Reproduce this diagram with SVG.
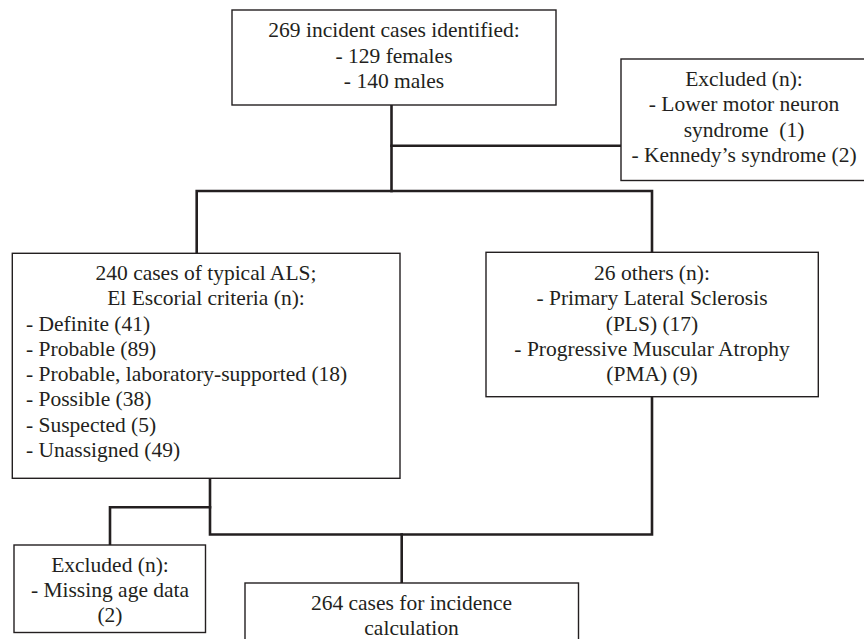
<svg xmlns="http://www.w3.org/2000/svg" width="864" height="639" viewBox="0 0 864 639">
<style>
.box{fill:#fff;stroke:#231f20;stroke-width:1.4}
.t{font-family:"Liberation Serif","Times New Roman",serif;font-size:21.5px;fill:#231f20}
.c{text-anchor:middle}
.conn{fill:none;stroke:#231f20;stroke-width:2.6;stroke-linejoin:miter;stroke-linecap:square}
</style>
<rect width="864" height="639" fill="#fff"/>
<g id="connectors">
<path class="conn" d="M391.5,105 V191"/>
<path class="conn" d="M391.5,145.7 H621"/>
<path class="conn" d="M196.7,253 V191 H652 V252"/>
<path class="conn" d="M210,478 V534.5 H652 V397"/>
<path class="conn" d="M210,507.3 H110 V545"/>
<path class="conn" d="M401.7,534.5 V583"/>
</g>
<g id="n_identified">
<rect class="box" x="232" y="10" width="324" height="95"/>
<text class="t c" x="394" y="37">269 incident cases identified:</text>
<text class="t c" x="394" y="62.5">- 129 females</text>
<text class="t c" x="394" y="88">- 140 males</text>
</g>
<g id="n_excluded1">
<rect class="box" x="621" y="59" width="250" height="121.5"/>
<text class="t c" x="744" y="86">Excluded (n):</text>
<text class="t c" x="744" y="111.3">- Lower motor neuron</text>
<text class="t c" x="744" y="136.5" xml:space="preserve">syndrome  (1)</text>
<text class="t c" x="744" y="161.5">- Kennedy’s syndrome (2)</text>
</g>
<g id="n_als">
<rect class="box" x="12.3" y="253.3" width="387.7" height="225"/>
<text class="t c" x="206" y="280">240 cases of typical ALS;</text>
<text class="t c" x="206" y="305.3">El Escorial criteria (n):</text>
<text class="t" x="26" y="330.5">- Definite (41)</text>
<text class="t" x="26" y="355.8">- Probable (89)</text>
<text class="t" x="26" y="381">- Probable, laboratory-supported (18)</text>
<text class="t" x="26" y="406.3">- Possible (38)</text>
<text class="t" x="26" y="431.5">- Suspected (5)</text>
<text class="t" x="26" y="456.8">- Unassigned (49)</text>
</g>
<g id="n_others">
<rect class="box" x="486" y="252.3" width="332.3" height="144.4"/>
<text class="t c" x="652" y="280">26 others (n):</text>
<text class="t c" x="652" y="305.3">- Primary Lateral Sclerosis</text>
<text class="t c" x="652" y="330.5">(PLS) (17)</text>
<text class="t c" x="652" y="355.8">- Progressive Muscular Atrophy</text>
<text class="t c" x="652" y="381">(PMA) (9)</text>
</g>
<g id="n_excluded2">
<rect class="box" x="14" y="545" width="191.5" height="87.5"/>
<text class="t c" x="110" y="571.5">Excluded (n):</text>
<text class="t c" x="110" y="596.5">- Missing age data</text>
<text class="t c" x="110" y="621.5">(2)</text>
</g>
<g id="n_incidence">
<rect class="box" x="245" y="583" width="333.5" height="70"/>
<text class="t c" x="411.5" y="609.5">264 cases for incidence</text>
<text class="t c" x="411.5" y="634.5">calculation</text>
</g>
</svg>
